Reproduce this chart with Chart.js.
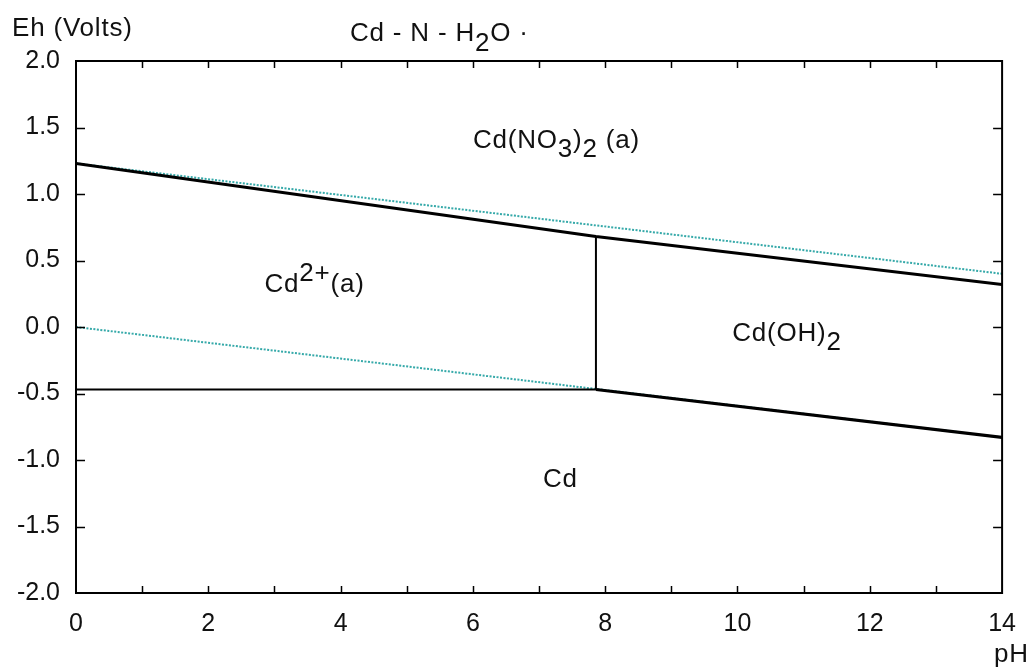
<!DOCTYPE html>
<html>
<head>
<meta charset="utf-8">
<script src="https://cdn.jsdelivr.net/npm/chart.js@4.4.1/dist/chart.umd.min.js"></script>
<style>
  html, body { margin: 0; background: #fff; }
</style>
</head>
<body>
<canvas id="chart" width="1032" height="668"></canvas>
<script>
// water stability lines (pH 0 -> 14)
const waterPh = [0, 14]
const waterUpperEh = [1.23, 0.40]
const waterLowerEh = [0.0, -0.83]

// phase boundaries
const nitratePh = [0, 7.86, 14]
const nitrateEh = [1.23, 0.68, 0.32]
const cdIonPh = [0, 7.86]
const cdIonEh = [-0.47, -0.47]
const hydroxideVertPh = [7.86, 7.86]
const hydroxideVertEh = [-0.47, 0.68]
const hydroxideCdPh = [7.86, 14]
const hydroxideCdEh = [-0.47, -0.83]

// region labels ( _{..} subscript, ^{..} superscript )
const regionNames = ["Cd(NO_{3})_{2} (a)", "Cd^{2+}(a)", "Cd(OH)_{2}", "Cd"]
const regionPh = [6.0, 2.85, 9.92, 7.06]
const regionEh = [1.40, 0.32, -0.05, -1.15]

const xTicks = [0, 2, 4, 6, 8, 10, 12, 14]
const yTicks = [-2.0, -1.5, -1.0, -0.5, 0.0, 0.5, 1.0, 1.5, 2.0]

const FONT = '"Liberation Sans", Arial, sans-serif'

const toPoints = (xs, ys) => xs.map((v, i) => ({ x: v, y: ys[i] }))

// draw text with sub / superscript parts
function drawRich(ctx, str, x, y, size) {
  const re = /([_^])\{([^}]*)\}|([^_^]+)/g
  let m
  ctx.font = size + 'px ' + FONT
  ctx.letterSpacing = '0.8px'
  ctx.textBaseline = 'middle'
  ctx.textAlign = 'left'
  while ((m = re.exec(str)) !== null) {
    let txt = m[3] || m[2]
    let dy = 0
    if (m[1] === '_') dy = size * 0.36
    if (m[1] === '^') dy = -size * 0.4
    ctx.fillText(txt, x, y + dy)
    x += ctx.measureText(txt).width
  }
}

const framePlugin = {
  id: 'frame',
  afterDatasetsDraw(chart) {
    const { ctx, chartArea: a, scales: { x, y } } = chart
    ctx.save()
    ctx.strokeStyle = '#000'
    ctx.lineWidth = 2
    ctx.strokeRect(a.left, a.top, a.right - a.left, a.bottom - a.top)

    // inward ticks
    ctx.lineWidth = 1.5
    ctx.beginPath()
    for (let v = 1; v < 14; v++) {
      const px = Math.round(x.getPixelForValue(v)) + 0.5
      ctx.moveTo(px, a.bottom); ctx.lineTo(px, a.bottom - 7)
      ctx.moveTo(px, a.top); ctx.lineTo(px, a.top + 7)
    }
    for (let i = 1; i < yTicks.length - 1; i++) {
      const py = Math.round(y.getPixelForValue(yTicks[i])) + 0.5
      ctx.moveTo(a.left, py); ctx.lineTo(a.left + 9, py)
      ctx.moveTo(a.right, py); ctx.lineTo(a.right - 9, py)
    }
    ctx.stroke()

    // region names
    ctx.fillStyle = '#111'
    regionNames.forEach((name, i) => {
      drawRich(ctx, name, x.getPixelForValue(regionPh[i]), y.getPixelForValue(regionEh[i]), 26)
    })

    // titles
    drawRich(ctx, "Eh (Volts)", 12, 29, 26)
    drawRich(ctx, "Cd - N - H_{2}O ·", 350, 34, 26)
    drawRich(ctx, "pH", 994, 655, 26)
    ctx.restore()
  }
}

const blackLine = { showLine: true, borderColor: '#000', borderWidth: 3, pointRadius: 0, fill: false }

const data = {
  datasets: [
    { ...blackLine, data: toPoints(nitratePh, nitrateEh) },
    { ...blackLine, borderWidth: 2, data: toPoints(cdIonPh, cdIonEh) },
    { ...blackLine, borderWidth: 2, data: toPoints(hydroxideVertPh, hydroxideVertEh) },
    { ...blackLine, data: toPoints(hydroxideCdPh, hydroxideCdEh) },
    {
      showLine: true, borderColor: '#35a9a9', borderWidth: 2, borderDash: [2, 1.5],
      pointRadius: 0, data: toPoints(waterPh, waterUpperEh)
    },
    {
      showLine: true, borderColor: '#35a9a9', borderWidth: 2, borderDash: [2, 1.5],
      pointRadius: 0, data: toPoints(waterPh, waterLowerEh)
    }
  ]
}

const config = {
  type: 'scatter',
  data,
  options: {
    responsive: false,
    animation: false,
    events: [],
    layout: { padding: { top: 61, right: 26, left: 0, bottom: 0 } },
    plugins: {
      legend: { display: false },
      tooltip: { enabled: false }
    },
    scales: {
      x: {
        type: 'linear',
        min: 0,
        max: 14,
        afterFit: s => { s.height = 75 },
        afterBuildTicks: s => { s.ticks = xTicks.map(v => ({ value: v })) },
        grid: { display: false, drawTicks: false },
        border: { display: false },
        ticks: {
          color: '#111',
          padding: 16,
          maxRotation: 0,
          font: { family: FONT, size: 25 }
        }
      },
      y: {
        type: 'linear',
        min: -2,
        max: 2,
        afterFit: s => { s.width = 76 },
        afterBuildTicks: s => { s.ticks = yTicks.map(v => ({ value: v })) },
        grid: { display: false, drawTicks: false },
        border: { display: false },
        ticks: {
          color: '#111',
          padding: 16,
          font: { family: FONT, size: 25 },
          callback: v => v.toFixed(1)
        }
      }
    }
  },
  plugins: [framePlugin]
}

new Chart(document.getElementById('chart').getContext('2d'), config)
</script>
</body>
</html>
